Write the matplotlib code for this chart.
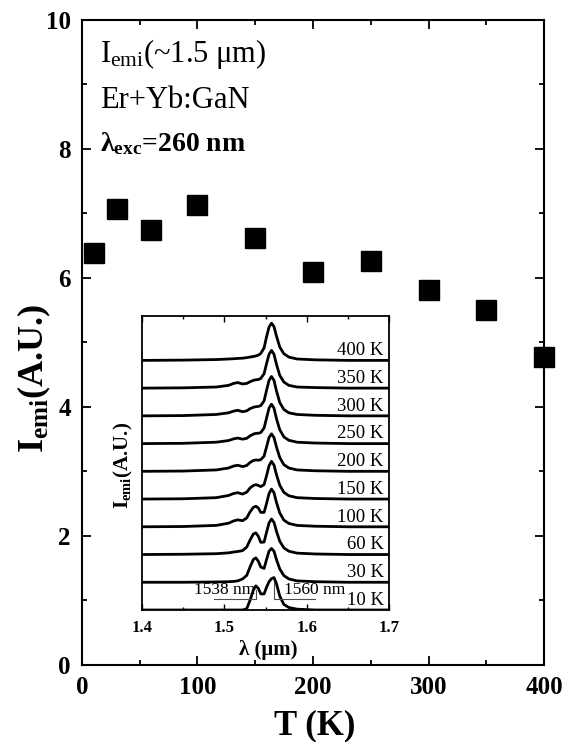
import matplotlib
matplotlib.use("Agg")
import matplotlib.pyplot as plt
from matplotlib.ticker import MultipleLocator

plt.rcParams["font.family"] = ["Liberation Serif", "DejaVu Serif"]
plt.rcParams["mathtext.fontset"] = "custom"
plt.rcParams["mathtext.rm"] = "Liberation Serif"
plt.rcParams["mathtext.bf"] = "Liberation Serif:bold"
plt.rcParams["mathtext.it"] = "Liberation Serif:italic"

# integrated 1.5 um emission vs temperature
temps = [10, 30, 60, 100, 150, 200, 250, 300, 350, 400]
i_emi = [6.39, 7.07, 6.74, 7.13, 6.62, 6.09, 6.26, 5.81, 5.50, 4.78]

# PL spectra (inset), one list per temperature, sampled on lam
lam = [1.400, 1.450, 1.490, 1.505, 1.511, 1.516, 1.522, 1.527, 1.531, 1.535,
       1.538, 1.541, 1.544, 1.548, 1.551, 1.554, 1.557, 1.560, 1.563, 1.567,
       1.572, 1.578, 1.588, 1.610, 1.650, 1.700]
spec_10K = [0, 0, 0, 0, 0, 0, 0, 0.05, 0.35, 0.72, 0.87, 0.78, 0.58, 0.58,
            0.82, 1.02, 1.13, 1.17, 0.95, 0.50, 0.20, 0.09, 0.03, 0, 0, 0]
spec_30K = [0, 0, 0.01, 0.02, 0.03, 0.05, 0.12, 0.25, 0.55, 0.82, 0.88, 0.76,
            0.55, 0.50, 0.82, 1.12, 1.22, 1.12, 0.82, 0.48, 0.24, 0.12, 0.05,
            0.02, 0, 0]
spec_60K = [0, 0.01, 0.03, 0.06, 0.09, 0.11, 0.14, 0.27, 0.52, 0.74, 0.78,
            0.66, 0.44, 0.45, 0.80, 1.14, 1.28, 1.16, 0.84, 0.48, 0.24, 0.12,
            0.05, 0.02, 0, 0]
spec_100K = [0, 0.01, 0.05, 0.13, 0.21, 0.25, 0.22, 0.32, 0.54, 0.70, 0.74,
             0.68, 0.52, 0.52, 0.84, 1.20, 1.36, 1.23, 0.88, 0.50, 0.24, 0.12,
             0.05, 0.02, 0, 0]
spec_150K = [0, 0.01, 0.05, 0.13, 0.20, 0.23, 0.18, 0.25, 0.40, 0.49, 0.52,
             0.49, 0.45, 0.52, 0.84, 1.20, 1.36, 1.23, 0.88, 0.50, 0.24, 0.12,
             0.05, 0.02, 0, 0]
spec_200K = [0, 0.01, 0.05, 0.12, 0.19, 0.22, 0.17, 0.21, 0.32, 0.39, 0.41,
             0.40, 0.42, 0.55, 0.88, 1.22, 1.35, 1.22, 0.88, 0.50, 0.24, 0.12,
             0.05, 0.02, 0, 0]
spec_250K = [0, 0.01, 0.05, 0.11, 0.17, 0.20, 0.16, 0.19, 0.28, 0.34, 0.37,
             0.37, 0.40, 0.56, 0.92, 1.28, 1.42, 1.28, 0.90, 0.50, 0.24, 0.12,
             0.05, 0.02, 0, 0]
spec_300K = [0, 0.01, 0.05, 0.11, 0.17, 0.20, 0.15, 0.18, 0.26, 0.31, 0.33,
             0.34, 0.37, 0.54, 0.92, 1.28, 1.42, 1.28, 0.90, 0.48, 0.23, 0.11,
             0.05, 0.02, 0, 0]
spec_350K = [0, 0.01, 0.04, 0.10, 0.17, 0.20, 0.15, 0.17, 0.23, 0.28, 0.30,
             0.31, 0.35, 0.52, 0.88, 1.22, 1.36, 1.22, 0.86, 0.46, 0.22, 0.10,
             0.04, 0.02, 0, 0]
spec_400K = [0, 0.01, 0.03, 0.05, 0.06, 0.07, 0.08, 0.10, 0.12, 0.14, 0.16,
             0.19, 0.25, 0.45, 0.85, 1.20, 1.34, 1.22, 0.88, 0.48, 0.24, 0.12,
             0.05, 0.02, 0, 0]
spectra = [spec_10K, spec_30K, spec_60K, spec_100K, spec_150K, spec_200K,
           spec_250K, spec_300K, spec_350K, spec_400K]
spec_labels = ["10 K", "30 K", "60 K", "100 K", "150 K", "200 K", "250 K",
               "300 K", "350 K", "400 K"]

fig = plt.figure(figsize=(5.73, 7.42), dpi=100)

# main panel
ax = fig.add_axes([0.1431, 0.1038, 0.8063, 0.8693])
ax.plot(temps, i_emi, "s", color="black", ms=14.4, clip_on=False, zorder=5)
ax.set_xlim(0, 400)
ax.set_ylim(0, 10)
ax.xaxis.set_major_locator(MultipleLocator(100))
ax.xaxis.set_minor_locator(MultipleLocator(50))
ax.yaxis.set_major_locator(MultipleLocator(2))
ax.yaxis.set_minor_locator(MultipleLocator(1))
ax.tick_params(which="both", direction="in", top=True, right=True, width=1.3)
ax.tick_params(which="major", length=6.5, labelsize=18, pad=8)
ax.tick_params(which="minor", length=3.6)
for lbl in ax.get_xticklabels() + ax.get_yticklabels():
    lbl.set_fontweight("bold")
for sp in ax.spines.values():
    sp.set_linewidth(1.5)

ax.set_xlabel("T (K)", fontsize=25, fontweight="bold", va="baseline")
ax.xaxis.set_label_coords(0.504, -0.107)
ax.set_ylabel(r"I$_{\mathbf{emi}}$(A.U.)", fontsize=26, fontweight="bold",
              va="center")
ax.yaxis.set_label_coords(-0.104, 0.445)

ax.text(0.039, 0.935, r"I$_{\rm emi}$(~1.5 μm)", transform=ax.transAxes,
        fontsize=22, va="baseline")
ax.text(0.039, 0.864, "Er+Yb:GaN", transform=ax.transAxes,
        fontsize=22, va="baseline")
ax.text(0.039, 0.797, r"λ$_{\mathbf{exc}}$=260 nm", transform=ax.transAxes,
        fontsize=20, fontweight="bold", va="baseline")

# inset with stacked spectra
axi = fig.add_axes([0.2478, 0.1779, 0.4319, 0.3962])
for k, (spec, lab) in enumerate(zip(spectra, spec_labels)):
    axi.plot(lam, [v + k for v in spec], color="black", lw=2.0)
    axi.text(1.693, k + 0.04, lab, fontsize=13.5, ha="right", va="bottom")
axi.set_xlim(1.4, 1.7)
axi.set_ylim(0, 10.6)
axi.set_yticks([])
axi.xaxis.set_major_locator(MultipleLocator(0.1))
axi.xaxis.set_minor_locator(MultipleLocator(0.05))
axi.tick_params(which="both", direction="in", top=True, width=1.0)
axi.tick_params(which="major", length=4, labelsize=12, pad=7)
axi.tick_params(which="minor", length=2.5)
for lbl in axi.get_xticklabels():
    lbl.set_fontweight("bold")
for sp in axi.spines.values():
    sp.set_linewidth(1.3)

# peak markers on the 10 K spectrum
axi.plot([1.487, 1.5387, 1.5387], [0.38, 0.38, 0.72], color="0.3", lw=0.8)
axi.plot([1.610, 1.5598, 1.5598], [0.38, 0.38, 1.0], color="0.3", lw=0.8)
axi.text(1.537, 0.42, "1538 nm", fontsize=12.5, ha="right", va="bottom")
axi.text(1.572, 0.42, "1560 nm", fontsize=12.5, ha="left", va="bottom")

axi.set_xlabel("λ (μm)", fontsize=15, fontweight="bold", va="baseline")
axi.xaxis.set_label_coords(0.51, -0.153)
axi.set_ylabel(r"I$_{\mathbf{emi}}$(A.U.)", fontsize=15, fontweight="bold",
               va="center")
axi.yaxis.set_label_coords(-0.076, 0.493)

fig.savefig("out.png", dpi=100)
